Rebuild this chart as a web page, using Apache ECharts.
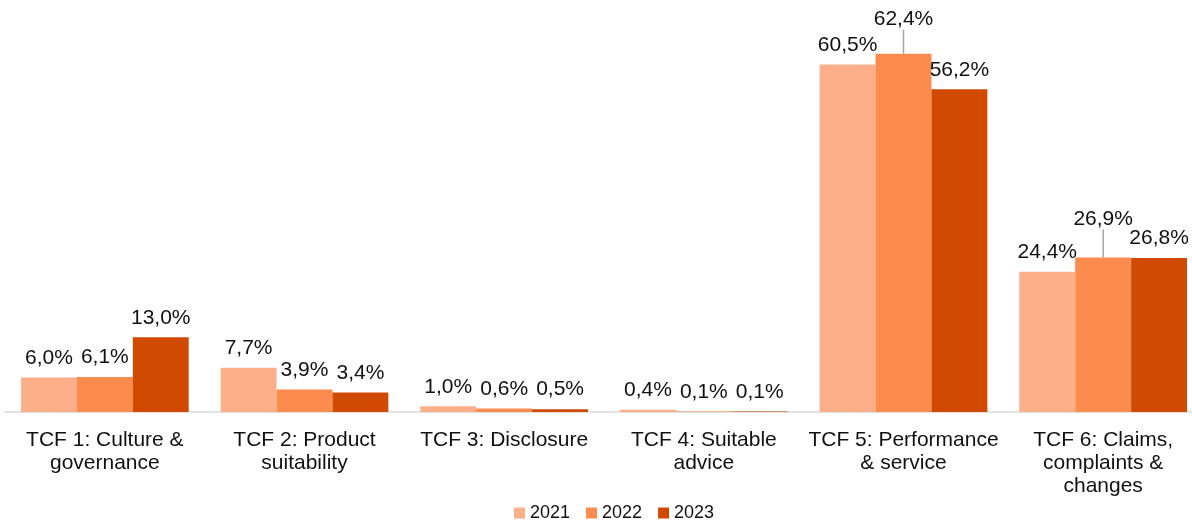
<!DOCTYPE html>
<html>
<head>
<meta charset="utf-8">
<title>TCF outcomes by year</title>
<script src="https://cdn.jsdelivr.net/npm/echarts@6/dist/echarts.min.js"></script>
<style>
  html, body { margin: 0; padding: 0; background: #ffffff; }
  #chart { width: 1192px; height: 521px; }
</style>
</head>
<body>
<div id="chart"></div>
<script>
// Categories (line breaks follow the printed axis labels)
const categories = [
  'TCF 1: Culture &\ngovernance',
  'TCF 2: Product\nsuitability',
  'TCF 3: Disclosure',
  'TCF 4: Suitable\nadvice',
  'TCF 5: Performance\n& service',
  'TCF 6: Claims,\ncomplaints &\nchanges'
];

// Share of each TCF outcome per year, in percent
const values2021 = [6.0, 7.7, 1.0, 0.4, 60.5, 24.4];
const values2022 = [6.1, 3.9, 0.6, 0.1, 62.4, 26.9];
const values2023 = [13.0, 3.4, 0.5, 0.1, 56.2, 26.8];

const years = ['2021', '2022', '2023'];
const colors = ['#FDAF89', '#FC8B4E', '#D04A02'];

// 2022 labels that are lifted above their neighbours, with a guide line
const liftedLabels = { 4: -15, 5: -19 };

const fmt = p => p.value.toFixed(1).replace('.', ',') + '%';
const FONT = 'Liberation Sans, Arial, sans-serif';

const labelStyle = {
  show: true,
  position: 'top',
  distance: 9,
  formatter: fmt,
  fontFamily: FONT,
  fontSize: 21,
  color: '#111111'
};

const data2022 = values2022.map((v, i) => ({
  value: v,
  labelLine: {
    show: liftedLabels[i] !== undefined,
    length2: 0,
    lineStyle: { color: '#a6a6a6', width: 1.5 }
  }
}));

const chart = echarts.init(document.getElementById('chart'), null, { renderer: 'canvas' });

chart.setOption({
  animation: false,
  color: colors,
  grid: {
    left: 5,
    top: 10,
    right: -11,
    bottom: 109,
    outerBoundsMode: 'none',
    containLabel: false
  },
  legend: {
    data: years,
    top: 504,
    left: 514,
    padding: 0,
    icon: 'rect',
    itemWidth: 11,
    itemHeight: 11,
    itemGap: 16,
    textStyle: {
      fontFamily: FONT,
      fontSize: 18,
      lineHeight: 18,
      color: '#111111'
    }
  },
  xAxis: {
    type: 'category',
    data: categories,
    axisLine: { show: true, lineStyle: { color: '#d9d9d9', width: 1.5 } },
    axisTick: { show: false },
    axisLabel: {
      interval: 0,
      margin: 17,
      fontFamily: FONT,
      fontSize: 21,
      lineHeight: 23,
      color: '#111111'
    }
  },
  yAxis: {
    type: 'value',
    min: 0,
    max: 70,
    show: false,
    splitLine: { show: false }
  },
  series: [
    {
      name: years[0],
      type: 'bar',
      data: values2021,
      barGap: '0%',
      barCategoryGap: '16%',
      label: labelStyle
    },
    {
      name: years[1],
      type: 'bar',
      data: data2022,
      barGap: '0%',
      barCategoryGap: '16%',
      label: labelStyle,
      labelLayout: function (p) {
        const dy = liftedLabels[p.dataIndex];
        return dy !== undefined ? { dy: dy } : {};
      }
    },
    {
      name: years[2],
      type: 'bar',
      data: values2023,
      barGap: '0%',
      barCategoryGap: '16%',
      label: labelStyle
    }
  ]
});
</script>
</body>
</html>
